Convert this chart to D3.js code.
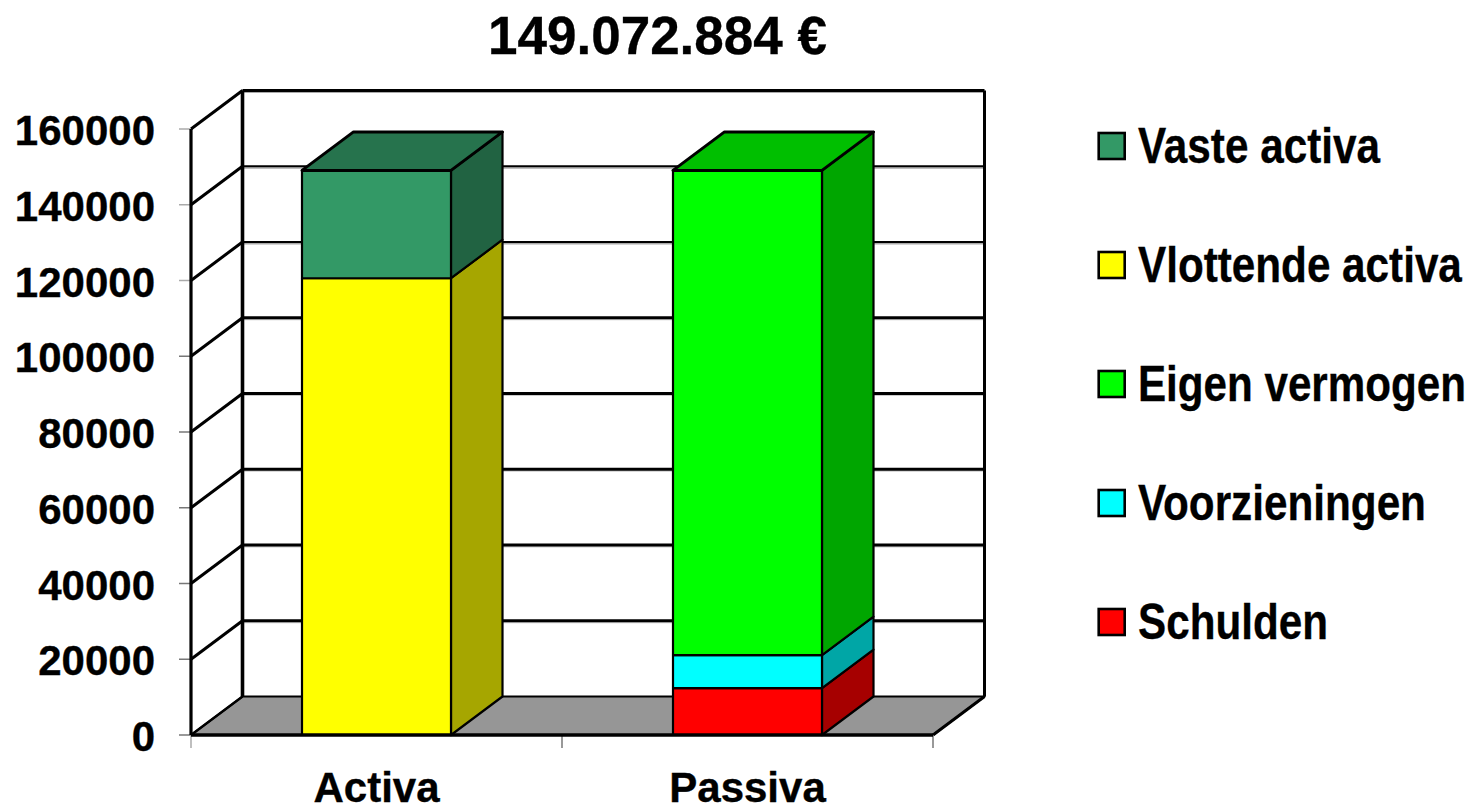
<!DOCTYPE html>
<html><head><meta charset="utf-8">
<script src="https://cdn.jsdelivr.net/npm/d3@7"></script>
<style>html,body{margin:0;padding:0;background:#fff}svg{display:block}text{font-family:"Liberation Sans",Arial,sans-serif;font-weight:bold;fill:#000;stroke:#000;stroke-width:.35}</style>
</head><body><svg id="c" width="1472" height="804"></svg>
<script>
const titleText = "149.072.884 €";
const categories = ["Activa", "Passiva"];
const seriesNames = ["Schulden", "Voorzieningen", "Eigen vermogen", "Vlottende activa", "Vaste activa"];
const schulden = [0, 12400];
const voorzieningen = [0, 8700];
const eigenVermogen = [0, 127973];
const vlottendeActiva = [120600, 0];
const vasteActiva = [28473, 0];
const frontColors = ["#ff0000", "#00ffff", "#00ff00", "#ffff00", "#339966"];
const sideColors = ["#a60000", "#00a6a6", "#00a600", "#a6a600", "#216342"];
const topColors = ["#bf0000", "#00bfbf", "#00bf00", "#bfbf00", "#26734d"];
const yTicks = [0, 20000, 40000, 60000, 80000, 100000, 120000, 140000, 160000];

const svg = d3.select("#c");
const x = d3.scaleBand().domain(categories).range([191, 933]).paddingInner(0).paddingOuter(0);
const y = d3.scaleLinear().domain([0, 160000]).range([735, 129]);
const dx = 51.5, dy = -38.5, barW = 149;
const values = [schulden, voorzieningen, eigenVermogen, vlottendeActiva, vasteActiva];
const stack = d3.stack().keys(d3.range(values.length)).value((d, k) => values[k][d]);
const layers = stack(d3.range(categories.length));
const poly = (pts, fill, sw, stroke) => svg.append("polygon").attr("points", pts.map(p => p.join(",")).join(" "))
  .attr("fill", fill).attr("stroke", stroke || "#000").attr("stroke-width", sw).attr("stroke-linejoin", "round");
const line = (a, b, w, c) => svg.append("line").attr("x1", a[0]).attr("y1", a[1]).attr("x2", b[0]).attr("y2", b[1])
  .attr("stroke", c || "#000").attr("stroke-width", w);

const xL = x.range()[0], xR = x.range()[1], y0 = y(0), yT = y(160000);
// floor
poly([[xL, y0], [xR, y0], [xR + dx, y0 + dy], [xL + dx, y0 + dy]], "#969696", 2);
// gridlines on back wall and side wall
yTicks.forEach(t => {
  const yy = y(t);
  if (t > 0) {
    const heavy = t <= 100000 || t === 160000;
    line([xL + dx, yy + dy + 1.8], [xR + dx, yy + dy + 1.8], 1.6, t <= 100000 ? "#ccc" : "#aaa");
    line([xL + dx, yy + dy], [xR + dx, yy + dy], heavy ? 3 : 2);
    line([xL, yy], [xL + dx, yy + dy], 3);
  }
  line([xL - 12, yy], [xL, yy], 1.5, t > 100000 ? "#aaa" : "#777");
});
// walls
line([xL, y0], [xL, yT], 3.2);
line([xL + dx, y0 + dy], [xL + dx, yT + dy], 3.6);
line([xR + dx, y0 + dy], [xR + dx, yT + dy], 3);
line([xL, y0], [xL + dx, y0 + dy], 2.4);
line([xR, y0], [xR + dx, y0 + dy], 3);
// category ticks
[xL, (xL + xR) / 2, xR].forEach((v, i) => line([v, y0], [v, y0 + 13], 1.5, i === 0 ? "#aaa" : "#777"));

// bars
categories.forEach((cat, i) => {
  const cx = x(cat) + x.bandwidth() / 2, l = cx - barW / 2, r = cx + barW / 2;
  layers.forEach((layer, k) => {
    const [a, b] = layer[i];
    if (b - a <= 0) return;
    const yb = y(a), yt = y(b);
    poly([[r, yb], [r, yt], [r + dx, yt + dy], [r + dx, yb + dy]], sideColors[k], 2.2);
    poly([[l, yt], [r, yt], [r, yb], [l, yb]], frontColors[k], 2.2);
    if (layers.slice(k + 1).every(u => u[i][1] - u[i][0] <= 0))
      poly([[l, yt], [r, yt], [r + dx, yt + dy], [l + dx, yt + dy]], topColors[k], 3);
  });
});
line([xL, y0], [xR, y0], 3.4);

// text: size sets height; optional width squeezes horizontally
const label = (s, px, py, size, anchor, width) => {
  const t = svg.append("text").attr("font-size", size).attr("text-anchor", anchor || "start").text(s);
  const sx = width ? width / t.node().getComputedTextLength() : 1;
  t.attr("transform", `translate(${px},${py}) scale(${sx},1)`);
  return t;
};

label(titleText, 657.5, 54, 53, "middle");
yTicks.forEach(t => label(String(t), 155, y(t) + 16, 42, "end"));
categories.forEach(c => label(c, x(c) + x.bandwidth() / 2, 801.5, 42, "middle"));
const legendY = d3.scalePoint().domain(seriesNames.slice().reverse()).range([146, 622]);
const legendW = {"Vaste activa": 242, "Vlottende activa": 324, "Eigen vermogen": 328, "Voorzieningen": 288, "Schulden": 190};
seriesNames.forEach((n, k) => {
  const ly = legendY(n);
  svg.append("rect").attr("x", 1098.7).attr("y", ly - 13).attr("width", 26).attr("height", 26)
    .attr("fill", frontColors[k]).attr("stroke", "#000").attr("stroke-width", 2.6);
  label(n, 1138, ly + 17, 50, "start", legendW[n]);
});
</script></body></html>
